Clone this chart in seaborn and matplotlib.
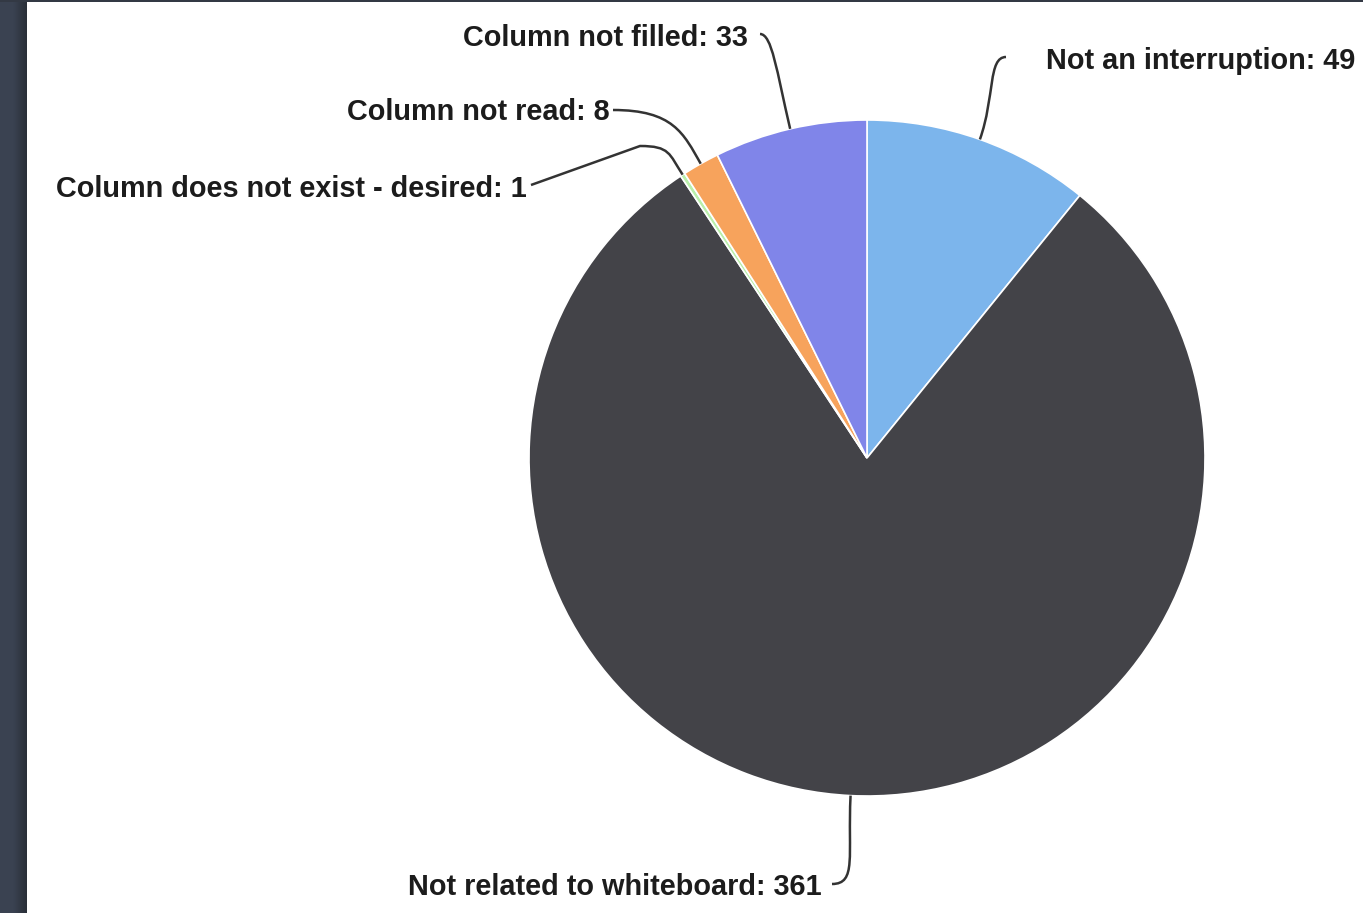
import numpy as np
import matplotlib
matplotlib.use("Agg")
import matplotlib.pyplot as plt
import seaborn as sns
from matplotlib.path import Path
from matplotlib.patches import PathPatch
from matplotlib.colors import LinearSegmentedColormap

# ---- data ----
categories = ["Not an interruption", "Not related to whiteboard",
              "Column does not exist - desired", "Column not read", "Column not filled"]
values = [49, 361, 1, 8, 33]
colors = ["#7cb5ec", "#434348", "#b8efaa", "#f7a35c", "#8085e9"]

sns.set_theme(style="white")
plt.rcParams['font.family'] = ['Liberation Sans', 'DejaVu Sans']

W, H = 1363, 913
fig = plt.figure(figsize=(W / 100, H / 100), dpi=100)
fig.patch.set_facecolor("white")

# dark frame strips (left gradient + top line)
gax = fig.add_axes([0, 0, 27 / W, 1])
grad = np.linspace(0, 1, 64)[None, :]
cmap = LinearSegmentedColormap.from_list("fr", ["#3b4352", "#3a4251", "#2a2f38"])
gax.imshow(grad, aspect="auto", cmap=cmap, extent=[0, 1, 0, 1])
gax.axis("off")
tax = fig.add_axes([0, 1 - 2.5 / H, 1, 2.5 / H])
tax.set_facecolor("#333944")
tax.set_xticks([]); tax.set_yticks([])
for s in tax.spines.values():
    s.set_visible(False)

ax = fig.add_axes([0, 0, 1, 1])
ax.set_xlim(0, W)
ax.set_ylim(0, H)
ax.set_aspect("equal")
ax.axis("off")

cx, cy, r = 867, H - 458, 338
wedges, _ = ax.pie(values, colors=colors, startangle=90, counterclock=False,
                   center=(cx, cy), radius=r,
                   wedgeprops=dict(edgecolor="white", linewidth=1.2))
ax.set_xlim(0, W)
ax.set_ylim(0, H)

def Y(y):
    return H - y

# label layout: text x, text y (px from top), ha, connector anchor, waypoint, dir
layout = {
    "Not an interruption": (1046, 61, "left", (1006, 57), None, -1),
    "Not related to whiteboard": (822, 887, "right", (832, 884), None, 1),
    "Column does not exist - desired": (527, 189, "right", (531, 185), (640, 146), 1),
    "Column not read": (610, 112, "right", (613, 110), None, 1),
    "Column not filled": (748, 38, "right", (760, 34), None, 1),
}
ctrl = {
    "Not an interruption": (18, 45),
    "Not related to whiteboard": (25, 60),
    "Column does not exist - desired": (30, 25),
    "Column not read": (60, 35),
    "Column not filled": (12, 60),
}

for w, cat, val in zip(wedges, categories, values):
    tx, ty, ha, (axp, ayp), wp, d = layout[cat]
    ax.text(tx, Y(ty), f"{cat}: {val}", ha=ha, va="center",
            fontsize=20.8, fontweight="bold", color="#1c1c1c", clip_on=False)
    mid = np.deg2rad((w.theta1 + w.theta2) / 2)
    ex, ey = cx + r * np.cos(mid), cy + r * np.sin(mid)
    c1, c2 = ctrl[cat]
    verts = [(axp, Y(ayp))]
    codes = [Path.MOVETO]
    start = (axp, Y(ayp))
    if wp is not None:
        verts.append((wp[0], Y(wp[1])))
        codes.append(Path.LINETO)
        start = (wp[0], Y(wp[1]))
    verts += [(start[0] + d * c1, start[1]),
              (ex + c2 * np.cos(mid), ey + c2 * np.sin(mid)),
              (ex, ey)]
    codes += [Path.CURVE4] * 3
    ax.add_patch(PathPatch(Path(verts, codes), fill=False, edgecolor="#333333", lw=1.8))

fig.savefig("out.png", dpi=100)
